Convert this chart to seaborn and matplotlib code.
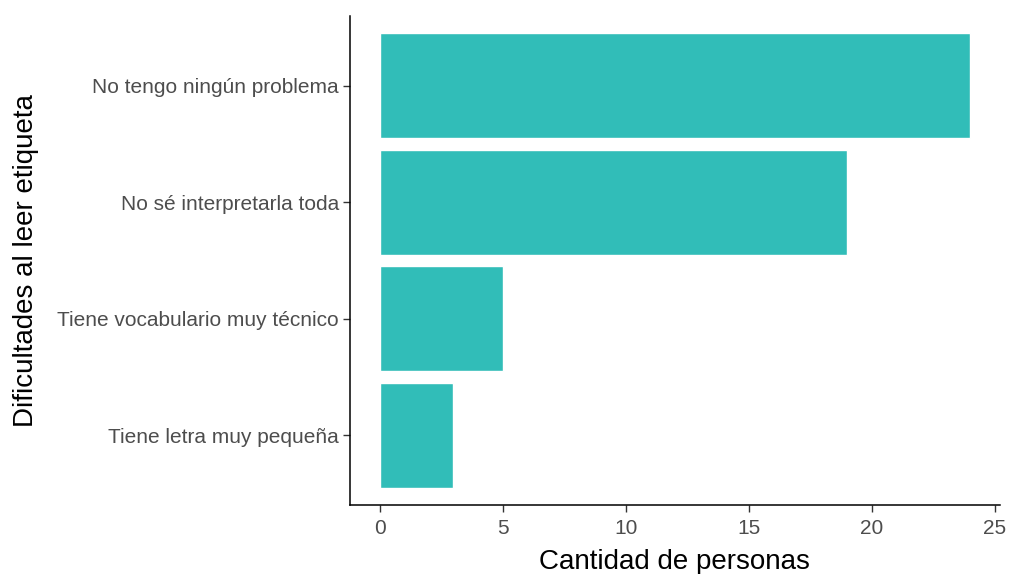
import matplotlib
matplotlib.use("Agg")
import matplotlib.pyplot as plt
import seaborn as sns
import pandas as pd

categories = ["No tengo ningún problema", "No sé interpretarla toda",
              "Tiene vocabulario muy técnico", "Tiene letra muy pequeña"]
values = [24, 19, 5, 3]
xticks = [0, 5, 10, 15, 20, 25]

df = pd.DataFrame({"cat": categories, "val": values})

sns.set_style("white")
plt.rcParams['font.family'] = ['Liberation Sans', 'DejaVu Sans']

fig = plt.figure(figsize=(10.1, 5.74), dpi=100)
ax = fig.add_axes([0.3465, 0.1202, 0.6435, 0.852])
sns.barplot(data=df, x="val", y="cat", order=categories, color="#31BDB8",
            saturation=1, width=0.9, ax=ax)
ax.set_xlim(-1.2, 25.2)
ax.set_ylim(3.6, -0.6)
ax.set_xticks(xticks)
ax.set_xticklabels([str(t) for t in xticks])
for s in ["top", "right"]:
    ax.spines[s].set_visible(False)
for s in ["left", "bottom"]:
    ax.spines[s].set_color("black")
    ax.spines[s].set_linewidth(1.1)
ax.tick_params(axis="both", which="both", length=5, width=1, color="#333333",
               labelcolor="#4D4D4D", labelsize=15, direction="out", pad=3,
               left=True, bottom=True)
ax.tick_params(axis="x", pad=5)
ax.set_xlabel("Cantidad de personas", fontsize=20, color="black", labelpad=8)
ax.set_ylabel("Dificultades al leer etiqueta", fontsize=20, color="black", labelpad=13)
fig.savefig("out.png", dpi=100)
